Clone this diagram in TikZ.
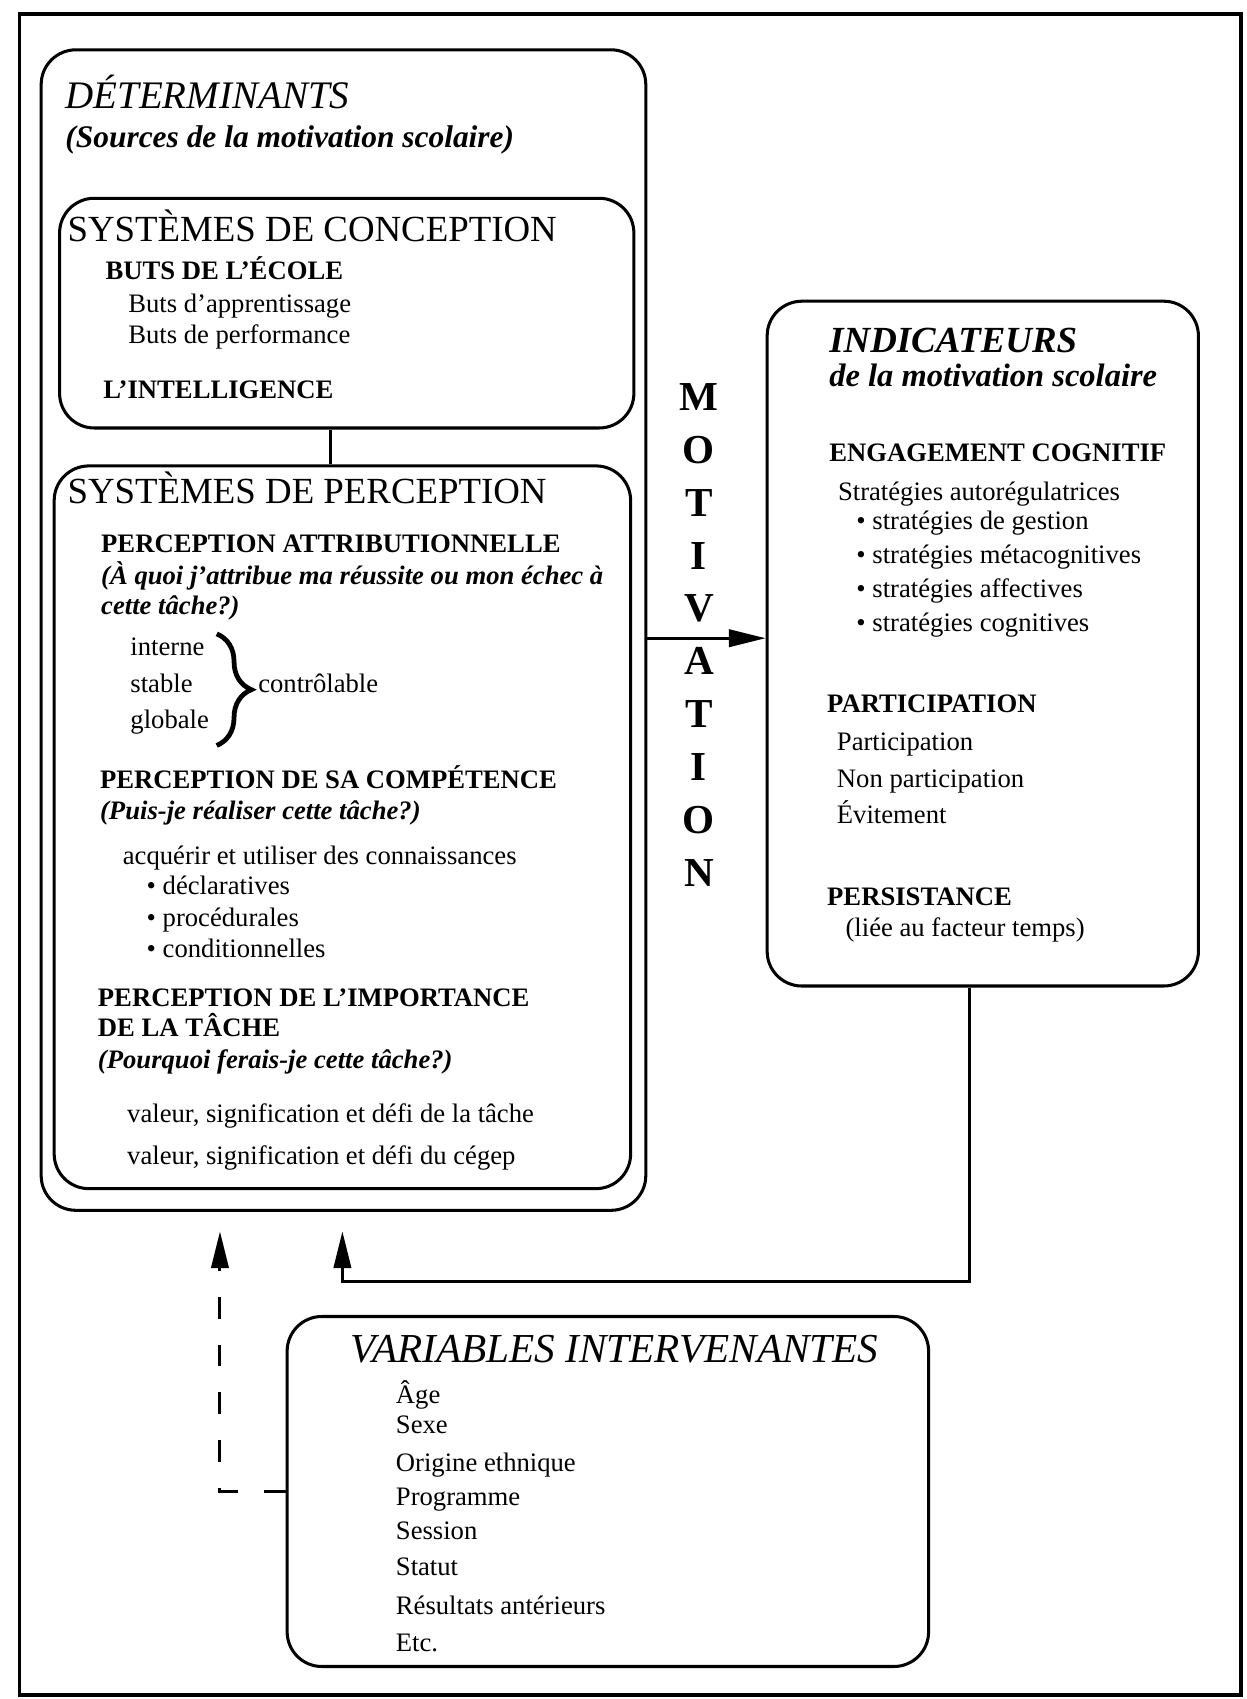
\documentclass[tikz,border=0pt]{standalone}
\usepackage{fontspec}
\setmainfont{Liberation Serif}
\usetikzlibrary{arrows.meta,decorations.pathreplacing}

\tikzset{
  box/.style={draw, line width=1.4pt, rounded corners=16pt, inner sep=0pt},
  txt/.style={anchor=base west, inner sep=0pt, font=\fontsize{12.3pt}{14.5pt}\selectfont},
  head/.style={txt, font=\fontsize{12.3pt}{14.5pt}\selectfont\bfseries},
  ask/.style={txt, font=\fontsize{12.3pt}{14.5pt}\selectfont\bfseries\itshape},
  sys/.style={txt, font=\fontsize{17pt}{20pt}\selectfont},
  bigtitle/.style={txt, font=\fontsize{18pt}{21pt}\selectfont\itshape},
  arr/.style={line width=1.4pt, -{Triangle[length=17pt,width=8pt]}},
}

\begin{document}
\begin{tikzpicture}[x=50pt,y=50pt]
  \useasboundingbox (0,0) rectangle (11.50,15.68);

  % Frame round the whole figure
  \draw[line width=1.8pt] (0.18,0.04) rectangle (11.45,15.55);

  % Boxes
  \node[box, minimum width=279pt, minimum height=535.5pt] (det)   at (3.17,9.865) {};
  \node[box, minimum width=265pt, minimum height=106pt]   (conc)  at (3.20,12.79) {};
  \node[box, minimum width=266pt, minimum height=333.5pt] (perc)  at (3.16,8.045) {};
  \node[box, minimum width=199pt, minimum height=316pt]   (indic) at (9.07,9.74)  {};
  \node[box, minimum width=296pt, minimum height=161.5pt] (var)   at (5.61,1.915) {};

  % Determinants
  \node[bigtitle] (ndet) at (0.60,14.68) {DÉTERMINANTS};
  \node[ask, font=\fontsize{14.5pt}{17pt}\selectfont\bfseries\itshape] (nsrc) at (0.60,14.32) {(Sources de la motivation scolaire)};

  % Systemes de conception
  \node[sys]  (nconc)  at (0.62,13.45) {SYSTÈMES DE CONCEPTION};
  \node[head] (nbuts)  at (0.97,13.10) {BUTS DE L'ÉCOLE};
  \node[txt]  (napp)   at (1.18,12.80) {Buts d'apprentissage};
  \node[txt]  (nperf)  at (1.18,12.51) {Buts de performance};
  \node[head] (nintel) at (0.95,12.00) {L'INTELLIGENCE};

  % Systemes de perception
  \node[sys]  (nperc) at (0.62,11.03) {SYSTÈMES DE PERCEPTION};
  \node[head] (nattr) at (0.93,10.58) {PERCEPTION ATTRIBUTIONNELLE};
  \node[ask]  (nq1)   at (0.93,10.29) {(À quoi j'attribue ma réussite ou mon échec à};
  \node[ask]  (nq1b)  at (0.93,10.01) {cette tâche?)};
  \node[txt]  (nint)  at (1.20,9.63) {interne};
  \node[txt]  (nstab) at (1.20,9.29) {stable};
  \node[txt]  (nglob) at (1.20,8.96) {globale};
  \draw[line width=2.2pt, decorate, decoration={brace, amplitude=16pt}] (2.00,9.83) -- (2.00,8.80);
  \node[txt]  (nctrl) at (2.38,9.29) {contrôlable};

  \node[head] (ncomp) at (0.92,8.40) {PERCEPTION DE SA COMPÉTENCE};
  \node[ask]  (nq2)   at (0.92,8.12) {(Puis-je réaliser cette tâche?)};
  \node[txt]  (nacq)  at (1.13,7.70) {acquérir et utiliser des connaissances};
  \node[txt]  (ndecl) at (1.35,7.42) {• déclaratives};
  \node[txt]  (nproc) at (1.35,7.13) {• procédurales};
  \node[txt]  (ncond) at (1.35,6.84) {• conditionnelles};

  \node[head] (nimp)  at (0.90,6.39) {PERCEPTION DE L'IMPORTANCE};
  \node[head] (nimpb) at (0.90,6.11) {DE LA TÂCHE};
  \node[ask]  (nq3)   at (0.90,5.82) {(Pourquoi ferais-je cette tâche?)};
  \node[txt]  (nval1) at (1.17,5.32) {valeur, signification et défi de la tâche};
  \node[txt]  (nval2) at (1.17,4.93) {valeur, signification et défi du cégep};

  % Motivation (vertical word)
  \node[font=\fontsize{19pt}{24.4pt}\selectfont\bfseries, align=center, inner sep=0pt] (motiv) at (6.45,9.82) {M\\O\\T\\I\\V\\A\\T\\I\\O\\N};

  % Indicateurs
  \node[txt, font=\fontsize{17pt}{20pt}\selectfont\bfseries\itshape] (nind) at (7.65,12.43) {INDICATEURS};
  \node[ask, font=\fontsize{15pt}{18pt}\selectfont\bfseries\itshape] (nindsub) at (7.65,12.11) {de la motivation scolaire};
  \node[head] (neng)   at (7.65,11.42) {ENGAGEMENT COGNITIF};
  \node[txt]  (nstrat) at (7.73,11.06) {Stratégies autorégulatrices};
  \node[txt]  (ns1)    at (7.90,10.79) {• stratégies de gestion};
  \node[txt]  (ns2)    at (7.90,10.48) {• stratégies métacognitives};
  \node[txt]  (ns3)    at (7.90,10.17) {• stratégies affectives};
  \node[txt]  (ns4)    at (7.90,9.85)  {• stratégies cognitives};
  \node[head] (npart)  at (7.63,9.10) {PARTICIPATION};
  \node[txt]  (np1)    at (7.72,8.75) {Participation};
  \node[txt]  (np2)    at (7.72,8.41) {Non participation};
  \node[txt]  (np3)    at (7.72,8.08) {Évitement};
  \node[head] (npers)  at (7.63,7.32) {PERSISTANCE};
  \node[txt]  (npers1) at (7.80,7.04) {(liée au facteur temps)};

  % Variables intervenantes
  \node[txt, font=\fontsize{19pt}{22pt}\selectfont\itshape] (nvar) at (3.23,3.11) {VARIABLES INTERVENANTES};
  \node[txt] (nv1) at (3.65,2.73) {Âge};
  \node[txt] (nv2) at (3.65,2.45) {Sexe};
  \node[txt] (nv3) at (3.65,2.10) {Origine ethnique};
  \node[txt] (nv4) at (3.65,1.79) {Programme};
  \node[txt] (nv5) at (3.65,1.47) {Session};
  \node[txt] (nv6) at (3.65,1.14) {Statut};
  \node[txt] (nv7) at (3.65,0.78) {Résultats antérieurs};
  \node[txt] (nv8) at (3.65,0.44) {Etc.};

  % Connectors
  \coordinate (link) at (3.05,12.00);
  \coordinate (mid)  at (6.45,9.79);
  \coordinate (back) at (3.16,3.85);
  \coordinate (side) at (2.03,2.00);
  \draw[line width=1.4pt] (conc.south -| link) -- (perc.north -| link);
  \draw[arr] (det.east |- mid) -- (indic.west |- mid);
  \draw[arr, shorten >=9pt] ([xshift=-6pt]indic.south) |- (back) -- (back |- det.south);
  \draw[arr, dash pattern=on 10pt off 12pt, shorten >=9pt] (var.west) -| (side |- det.south);
\end{tikzpicture}
\end{document}
